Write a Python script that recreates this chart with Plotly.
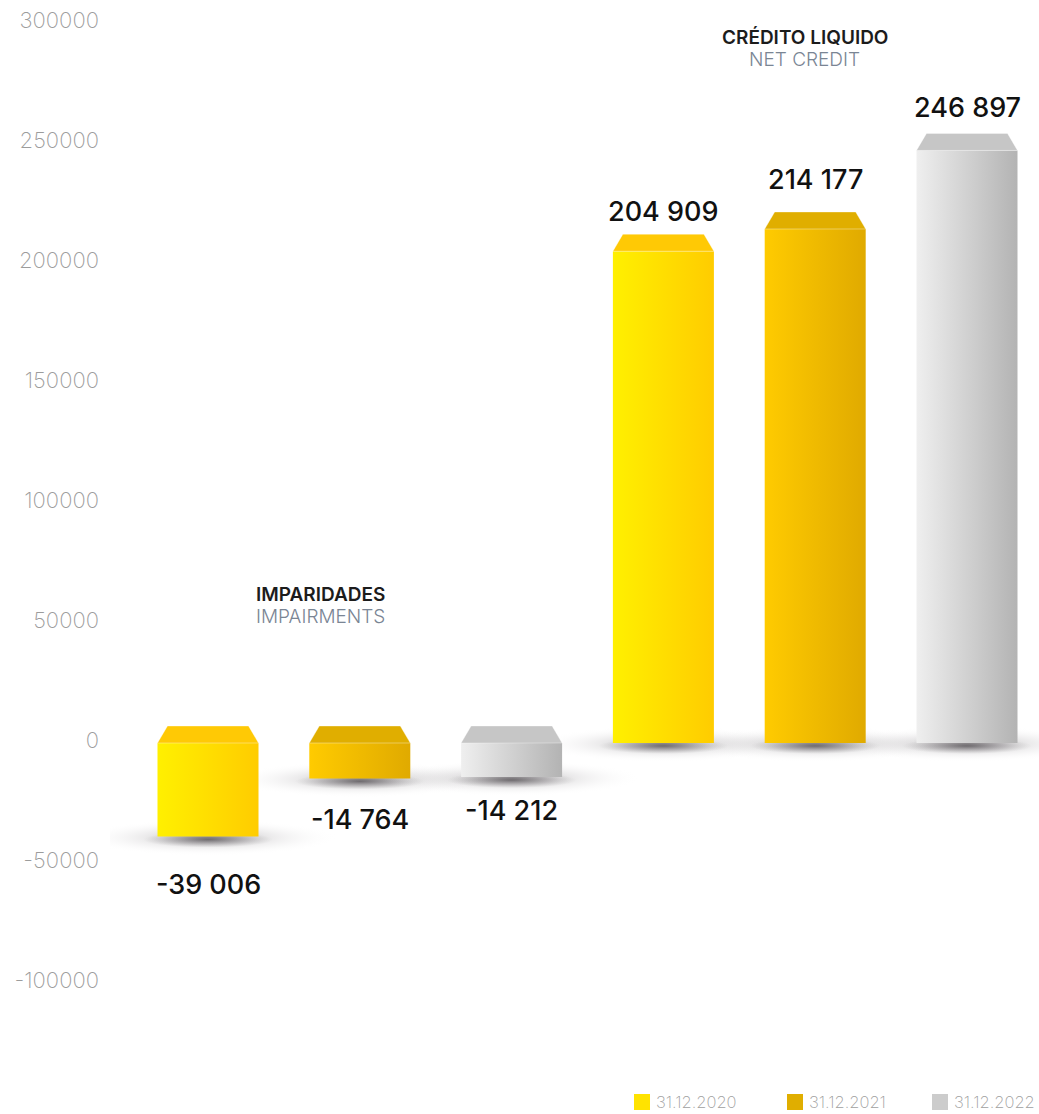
import numpy as np
import plotly.graph_objects as go

# ---- data -------------------------------------------------------------
years = ["31.12.2020", "31.12.2021", "31.12.2022"]
impairments = [-39006, -14764, -14212]        # IMPARIDADES / IMPAIRMENTS
net_credit = [204909, 214177, 246897]         # CRÉDITO LIQUIDO / NET CREDIT
tick_vals = [-100000, -50000, 0, 50000, 100000, 150000, 200000, 250000, 300000]
tick_text = ["-100000", "-50000", "0", "50000", "100000", "150000", "200000", "250000", "300000"]

# ---- styling ----------------------------------------------------------
front_grad = [("#FFF000", "#FFCC00"), ("#FFCB00", "#E0AA00"), ("#EFEFEF", "#B3B3B3")]
cap_color = ["#FFC905", "#E0AE00", "#C6C6C6"]
legend_color = ["#FFE300", "#E0AE00", "#CCCCCC"]
label_shift = [48, 41, 33, 40, 49, 43]        # px gap between bar end and value label

W, H = 1039, 1114
ML, MR, MT, MB = 110, 0, 0, 60
plot_w, plot_h = W - ML - MR, H - MT - MB
slot_px = 151.8                                # px per category slot
x_lo = -(208 - ML) / slot_px
x_hi = x_lo + plot_w / slot_px
y_per_px = 1 / 0.0024                          # value units per pixel
y_hi = (743 - MT) * y_per_px
y_lo = y_hi - plot_h * y_per_px

bar_w = 101 / slot_px
cap_h = 17 * y_per_px
cap_in = 10 / slot_px

fig = go.Figure()

values = impairments + net_credit
series = [0, 1, 2, 0, 1, 2]
xpos = list(range(len(values)))


def fmt(v):
    return f"{v:,}".replace(",", " ")


def ellipse(cx, cy, rx, ry, n=72):
    t = np.linspace(0, 2 * np.pi, n)
    return cx + rx * np.cos(t), cy + ry * np.sin(t)


def add_glow(cx, cy, rx_px, ry_px, stops):
    ex, ey = ellipse(cx, cy, rx_px / slot_px, ry_px * y_per_px)
    fig.add_trace(go.Scatter(
        x=ex, y=ey, mode="lines", line=dict(width=0), fill="toself",
        fillgradient=dict(type="radial", colorscale=stops),
        hoverinfo="skip", showlegend=False))


# soft shadows under each bar: a wide haze plus a darker core
for x, v in zip(xpos, values):
    base = min(v, 0)
    add_glow(x, base - 1 * y_per_px, 130, 18,
             [[0, "rgba(70,65,70,0.42)"], [0.5, "rgba(140,135,140,0.16)"],
              [1, "rgba(255,255,255,0)"]])
    add_glow(x, base - 3 * y_per_px, 65, 8,
             [[0, "rgba(45,40,45,0.55)"], [0.6, "rgba(80,75,80,0.22)"],
              [1, "rgba(120,120,120,0)"]])

# bar front faces
for x, v, s in zip(xpos, values, series):
    top, bot = max(v, 0), min(v, 0)
    x0, x1 = x - bar_w / 2, x + bar_w / 2
    c0, c1 = front_grad[s]
    fig.add_trace(go.Scatter(
        x=[x0, x1, x1, x0, x0], y=[bot, bot, top, top, bot],
        mode="lines", line=dict(width=0), fill="toself",
        fillgradient=dict(type="horizontal", colorscale=[[0, c0], [1, c1]]),
        name=years[s], hovertemplate="%{text}<extra></extra>",
        text=[fmt(v)] * 5, showlegend=False))

# bar top caps
for x, v, s in zip(xpos, values, series):
    top = max(v, 0)
    x0, x1 = x - bar_w / 2, x + bar_w / 2
    fig.add_trace(go.Scatter(
        x=[x0, x0 + cap_in, x1 - cap_in, x1, x0],
        y=[top, top + cap_h, top + cap_h, top, top],
        mode="lines", line=dict(width=1, color="rgba(255,255,255,0.35)"),
        fill="toself", fillcolor=cap_color[s],
        hoverinfo="skip", showlegend=False))

# value labels
for x, v, sh in zip(xpos, values, label_shift):
    fig.add_annotation(
        x=x, y=v, text=fmt(v), showarrow=False, yanchor="middle",
        yshift=-sh if v < 0 else sh,
        font=dict(family="Inter", size=27, color="#111111", weight=500))

# group titles
titles = [
    (0.74, 594, "IMPARIDADES", "IMPAIRMENTS"),
    (3.93, 37, "CRÉDITO LIQUIDO", "NET CREDIT"),
]
for gx, py, pt, en in titles:
    fig.add_annotation(x=gx, y=y_hi - (py - MT) * y_per_px, text=pt, showarrow=False,
                       font=dict(family="Inter", size=19, color="#1c1c1c", weight=600))
    fig.add_annotation(x=gx, y=y_hi - (py + 22 - MT) * y_per_px, text=en, showarrow=False,
                       font=dict(family="Inter", size=19, color="#7a8594", weight=300))


# legend row along the bottom edge (paper coordinates)
def px_to_paper_x(px):
    return (px - ML) / plot_w


def px_to_paper_y(py):
    return (H - MB - py) / plot_h


legend_sq = [642, 795, 940]
legend_y = 1102
for cx, name, col in zip(legend_sq, years, legend_color):
    fig.add_shape(type="rect", xref="paper", yref="paper",
                  x0=px_to_paper_x(cx - 8), x1=px_to_paper_x(cx + 8),
                  y0=px_to_paper_y(legend_y + 8), y1=px_to_paper_y(legend_y - 8),
                  fillcolor=col, line=dict(width=0))
    fig.add_annotation(xref="paper", yref="paper", x=px_to_paper_x(cx + 12),
                       y=px_to_paper_y(legend_y), text=name, showarrow=False,
                       xanchor="left", yanchor="middle",
                       font=dict(family="Inter", size=16.5, color="#a0a0a0", weight=200))

fig.update_layout(
    width=W, height=H,
    margin=dict(l=ML, r=MR, t=MT, b=MB),
    paper_bgcolor="white", plot_bgcolor="white",
    showlegend=False,
    xaxis=dict(range=[x_lo, x_hi], visible=False, fixedrange=True),
    yaxis=dict(range=[y_lo, y_hi], tickvals=tick_vals, ticktext=tick_text,
               showgrid=False, zeroline=False, showline=False, ticks="",
               ticklabelshift=-3, ticklabelstandoff=10, automargin=False,
               tickfont=dict(family="Inter", size=22, color="#9c9c9c", weight=200),
               fixedrange=True),
)

fig.write_html("out.html")
